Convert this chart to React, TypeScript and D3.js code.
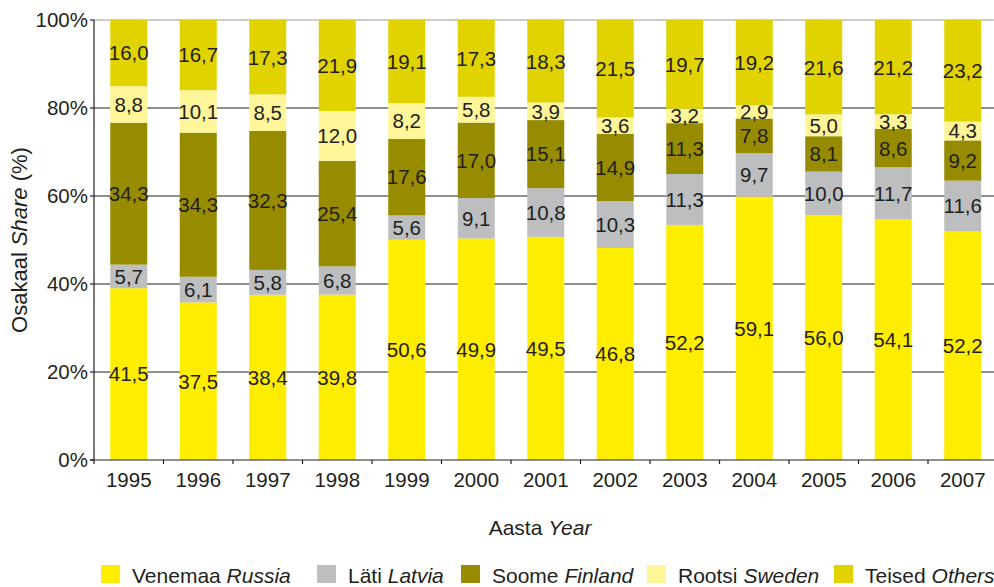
import React from "react";
import * as d3 from "d3";

const years = ["1995","1996","1997","1998","1999","2000","2001","2002","2003","2004","2005","2006","2007"];
const russia = [41.5,37.5,38.4,39.8,50.6,49.9,49.5,46.8,52.2,59.1,56.0,54.1,52.2];
const latvia = [5.7,6.1,5.8,6.8,5.6,9.1,10.8,10.3,11.3,9.7,10.0,11.7,11.6];
const finland = [34.3,34.3,32.3,25.4,17.6,17.0,15.1,14.9,11.3,7.8,8.1,8.6,9.2];
const sweden = [8.8,10.1,8.5,12.0,8.2,5.8,3.9,3.6,3.2,2.9,5.0,3.3,4.3];
const others = [16.0,16.7,17.3,21.9,19.1,17.3,18.3,21.5,19.7,19.2,21.6,21.2,23.2];
const yTicks = [0, 20, 40, 60, 80, 100];

const seriesKeys = ["russia", "latvia", "finland", "sweden", "others"];
const seriesNames = ["Venemaa", "Läti", "Soome", "Rootsi", "Teised"];
const seriesNamesEn = ["Russia", "Latvia", "Finland", "Sweden", "Others"];
const seriesColors = ["#FFED00", "#BCBEC0", "#978B00", "#FFF69A", "#E0D300"];
const seriesValues = [russia, latvia, finland, sweden, others];

const W = 994, H = 587;
const L = 94, T = 20, B = 460, STEP = 69.5;
const FONT = "'Liberation Sans', Arial, Helvetica, sans-serif";
const TXT = "#231F20";

export default function App() {
  const rows = years.map((y, i) => {
    const r: any = { year: y };
    seriesKeys.forEach((k, j) => (r[k] = seriesValues[j][i]));
    return r;
  });
  const stacked = d3.stack<any>().keys(seriesKeys).offset(d3.stackOffsetExpand)(rows);

  const pad = (STEP - 37) / STEP;
  const x = d3.scaleBand<string>().domain(years).range([L, L + STEP * years.length]).paddingInner(pad).paddingOuter(pad / 2);
  const y = d3.scaleLinear().domain([0, 100]).range([B, T]);
  const yf = d3.scaleLinear().domain([0, 1]).range([B, T]);
  const fmt = (v: number) => v.toFixed(1).replace(".", ",");

  const legendX = [101, 317, 461, 647, 834];

  return (
    <svg width={W} height={H} style={{ position: "absolute", left: 0, top: 0, background: "#fff" }} fontFamily={FONT}>
      {/* gridlines */}
      {yTicks.filter(t => t > 0).map(t => (
        <line key={"g" + t} x1={L} x2={W} y1={y(t)} y2={y(t)} stroke={t === 100 ? "#9a9a9a" : TXT} strokeWidth={1} />
      ))}
      {/* bars */}
      {stacked.map((s, si) => (
        <g key={s.key} fill={seriesColors[si]}>
          {s.map((d, i) => (
            <rect key={i} x={x(years[i])!} width={x.bandwidth()} y={yf(d[1])} height={yf(d[0]) - yf(d[1])} />
          ))}
        </g>
      ))}
      {/* value labels */}
      {stacked.map((s, si) => (
        <g key={"l" + s.key} fontSize={20.5} fill={TXT} textAnchor="middle">
          {s.map((d, i) => (
            <text key={i} x={x(years[i])! + x.bandwidth() / 2} y={(yf(d[0]) + yf(d[1])) / 2} dy="0.36em">
              {fmt(seriesValues[si][i])}
            </text>
          ))}
        </g>
      ))}
      {/* axes */}
      <line x1={L} x2={L} y1={T} y2={B + 4} stroke={TXT} strokeWidth={1.2} />
      <line x1={L - 4} x2={W} y1={B} y2={B} stroke={TXT} strokeWidth={1.2} />
      {yTicks.map(t => (
        <g key={"yt" + t}>
          <line x1={L - 4} x2={L} y1={y(t)} y2={y(t)} stroke={TXT} strokeWidth={1.2} />
          <text x={L - 6} y={y(t)} dy="0.36em" textAnchor="end" fontSize={20.5} fill={TXT}>{t + "%"}</text>
        </g>
      ))}
      {years.map((yr, i) => (
        <g key={"xt" + yr}>
          <line x1={L + STEP * (i + 1)} x2={L + STEP * (i + 1)} y1={B} y2={B + 4} stroke={TXT} strokeWidth={1.2} />
          <text x={x(yr)! + x.bandwidth() / 2} y={487} textAnchor="middle" fontSize={20.5} fill={TXT}>{yr}</text>
        </g>
      ))}
      {/* axis titles */}
      <text x={540} y={535} textAnchor="middle" fontSize={21} fill={TXT}>
        Aasta <tspan fontStyle="italic">Year</tspan>
      </text>
      <text transform={`translate(27,${(T + B) / 2}) rotate(-90)`} textAnchor="middle" fontSize={22} fill={TXT}>
        Osakaal <tspan fontStyle="italic">Share</tspan> (%)
      </text>
      {/* legend */}
      {seriesKeys.map((k, i) => (
        <g key={"lg" + k}>
          <rect x={legendX[i]} y={565} width={19} height={18} fill={seriesColors[i]} />
          <text x={legendX[i] + 31} y={583} fontSize={21} fill={TXT}>
            {seriesNames[i]} <tspan fontStyle="italic">{seriesNamesEn[i]}</tspan>
          </text>
        </g>
      ))}
    </svg>
  );
}
